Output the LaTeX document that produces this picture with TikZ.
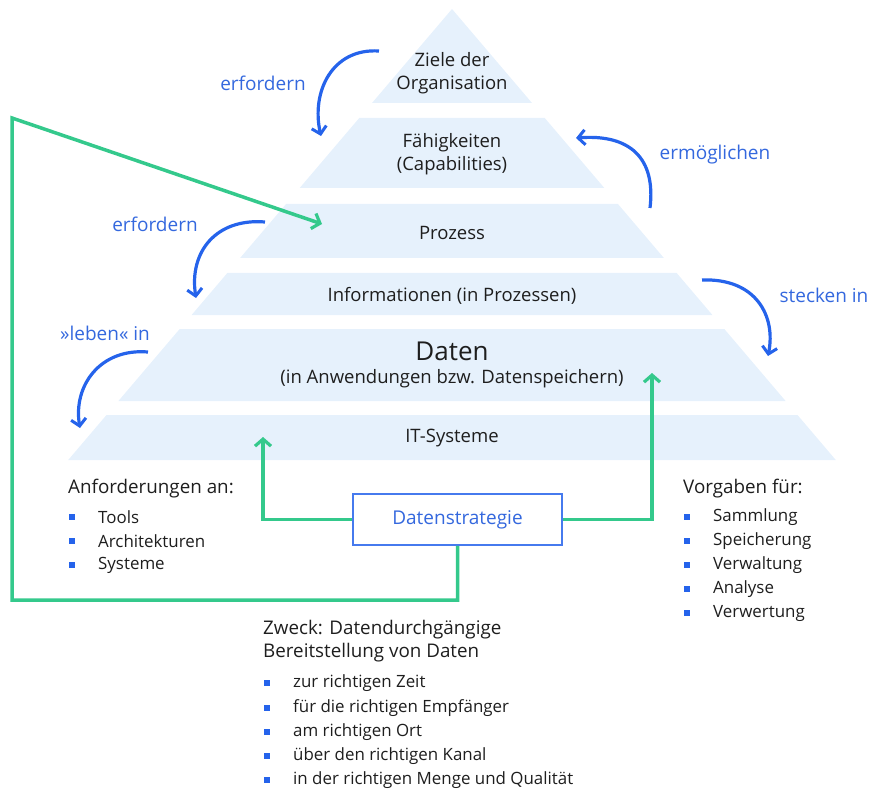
\documentclass[tikz,border=0pt]{standalone}
\usepackage{fontspec}
\setmainfont{Open Sans}
\usetikzlibrary{arrows.meta}
\definecolor{layerfill}{RGB}{230,241,252}
\definecolor{arrblue}{RGB}{37,99,235}
\definecolor{lblblue}{RGB}{52,104,222}
\definecolor{mygreen}{RGB}{52,201,140}
\definecolor{txt}{RGB}{30,30,30}
\tikzset{
  layer/.style={fill=layerfill, draw=none},
  lyrtext/.style={text=txt, font=\fontsize{18.5}{23}\selectfont, align=center, inner sep=0pt},
  bluelbl/.style={text=lblblue, font=\fontsize{19}{22}\selectfont, inner sep=0pt},
  bluearr/.style={draw=arrblue, line width=3.2pt, -{Straight Barb[length=7pt,width=15pt,line width=3pt]}},
  greenarr/.style={draw=mygreen, line width=3.5pt, -{Straight Barb[length=7pt,width=16pt,line width=3.2pt]}},
  headtext/.style={text=txt, font=\fontsize{18.8}{23.5}\selectfont, anchor=west, inner sep=0pt, align=left},
  itemtext/.style={text=txt, font=\fontsize{16.9}{20}\selectfont, anchor=west, inner sep=0pt},
  bulletsq/.style={fill=arrblue, minimum size=6pt, inner sep=0pt, draw=none},
  stratbox/.style={draw=arrblue!85, line width=1.5pt, fill=white, text=lblblue, font=\fontsize{19}{22}\selectfont, minimum width=209pt, minimum height=51pt}
}
\begin{document}
\begin{tikzpicture}[x=1pt,y=-1pt]
\useasboundingbox (0,0) rectangle (869,791);
% pyramid
\fill[layer] (452,9) -- (532,103) -- (372,103) -- cycle;
\foreach \a/\b in {118/188, 204/258, 273/315, 329/401, 415/460} {
  \fill[layer] ({452-0.851*(\a-9)},\a) -- ({452+0.851*(\a-9)},\a) -- ({452+0.851*(\b-9)},\b) -- ({452-0.851*(\b-9)},\b) -- cycle;
}
% layer texts
\node[lyrtext] (ziele) at (452,73) {Ziele der\\Organisation};
\node[lyrtext] (faeh) at (452,154) {Fähigkeiten\\(Capabilities)};
\node[lyrtext] (proz) at (452,233) {Prozess};
\node[lyrtext] (info) at (452,296) {Informationen (in Prozessen)};
\node[lyrtext, font=\fontsize{26}{28}\selectfont] (daten) at (452,351) {Daten};
\node[lyrtext] (datsub) at (452,379) {(in Anwendungen bzw. Datenspeichern)};
\node[lyrtext] (itsys) at (452,438) {IT-Systeme};
% blue labels
\node[bluelbl] (l1) at (263,83) {erfordern};
\node[bluelbl] (l2) at (715,155) {ermöglichen};
\node[bluelbl] (l3) at (155,224) {erfordern};
\node[bluelbl] (l4) at (824,295) {stecken in};
\node[bluelbl] (l5) at (105,333) {»leben« in};
% blue arrow endpoints
\coordinate (b1s) at (379,51);  \coordinate (b1e) at (321,136);
\coordinate (b2s) at (650,208); \coordinate (b2e) at (576,138);
\coordinate (b3s) at (265,222); \coordinate (b3e) at (196,298);
\coordinate (b4s) at (702,280); \coordinate (b4e) at (768,356);
\coordinate (b5s) at (148,352); \coordinate (b5e) at (80,428);
\draw[bluearr] (b1s) .. controls (332,48) and (311,92) .. (b1e);
\draw[bluearr] (b2s) .. controls (656,158) and (630,134) .. (b2e);
\draw[bluearr] (b3s) .. controls (216,218) and (189,252) .. (b3e);
\draw[bluearr] (b4s) .. controls (756,278) and (776,316) .. (b4e);
\draw[bluearr] (b5s) .. controls (100,348) and (73,386) .. (b5e);
% strategy box
\node[stratbox] (strat) at (457.5,519.5) {Datenstrategie};
% green connectors
\coordinate (gA) at (263,437);
\coordinate (gB) at (652,373);
\coordinate (gC) at (322,224);
\coordinate (c1) at (263,519.5);
\coordinate (c2) at (652,519.5);
\coordinate (c3) at (457.5,600);
\coordinate (c4) at (12,600);
\coordinate (c5) at (12,118);
\draw[greenarr] (strat.west) -- (c1) -- (gA);
\draw[greenarr] (strat.east) -- (c2) -- (gB);
\draw[greenarr, line join=miter] (strat.south) -- (c3) -- (c4) -- (c5) -- (gC);
% left list
\node[headtext] (anf) at (68,489) {Anforderungen an:};
\foreach \t/\yy/\n in {Tools/517/a1, Architekturen/541/a2, Systeme/565/a3} {
  \node[bulletsq] (\n b) at (72,\yy) {};
  \node[itemtext] (\n) at (98,\yy) {\t};
}
% right list
\node[headtext] (vorg) at (683,489) {Vorgaben für:};
\foreach \t/\yy/\n in {Sammlung/517/v1, Speicherung/541/v2, Verwaltung/565/v3, Analyse/589/v4, Verwertung/613/v5} {
  \node[bulletsq] (\n b) at (687,\yy) {};
  \node[itemtext] (\n) at (713,\yy) {\t};
}
% bottom list
\node[headtext, anchor=north west] (zweck) at (263,620) {Zweck: Datendurchgängige\\Bereitstellung von Daten};
\foreach \t/\yy/\n in {zur richtigen Zeit/683/z1, für die richtigen Empfänger/708/z2, am richtigen Ort/732/z3, über den richtigen Kanal/756/z4, in der richtigen Menge und Qualität/780/z5} {
  \node[bulletsq] (\n b) at (267,\yy) {};
  \node[itemtext] (\n) at (293,\yy) {\t};
}
\end{tikzpicture}
\end{document}
